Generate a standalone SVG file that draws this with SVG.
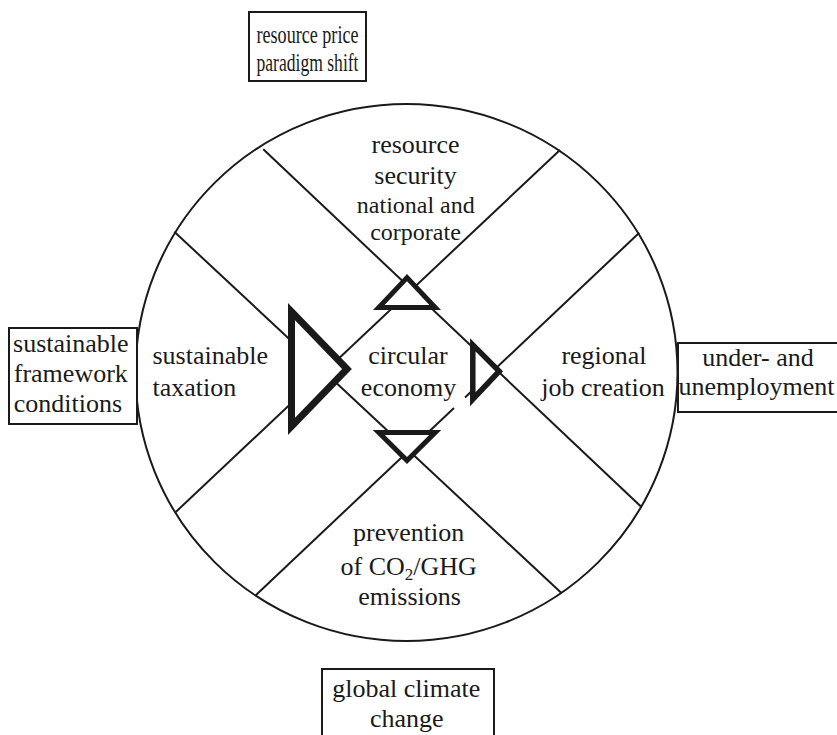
<svg xmlns="http://www.w3.org/2000/svg" width="837" height="735" viewBox="0 0 837 735">
  <style>
    .t { font-family: "Liberation Serif", "Times New Roman", serif; font-size: 26px; fill: #1a1a1a; }
    .m { text-anchor: middle; }
    .sm { font-size: 24px; }
    .ln { stroke: #1a1a1a; stroke-width: 2; fill: none; }
    .box { fill: #fff; stroke: #1a1a1a; stroke-width: 2; }
    .tri { fill: #fff; stroke: #1a1a1a; stroke-linejoin: miter; }
  </style>
  <rect width="837" height="735" fill="#fff"/>

  <!-- outer ring -->
  <g id="ring">
    <ellipse cx="406.5" cy="372.5" rx="271" ry="268.5" class="ln"/>
  </g>

  <!-- the four crossing dividers -->
  <g id="connectors">
    <line class="ln" x1="263.3" y1="149.3" x2="641.7" y2="507.3"/>
    <line class="ln" x1="174.3" y1="231.7" x2="561.7" y2="593.3"/>
    <line class="ln" x1="175" y1="512.7" x2="560" y2="150"/>
    <line class="ln" x1="256" y1="595" x2="454" y2="407.9"/>
    <line class="ln" x1="465" y1="397.5" x2="639.3" y2="232.7"/>
  </g>

  <!-- flow arrows around the centre -->
  <g id="arrow-left">
    <polygon class="tri" stroke-width="7" points="291.5,311.6 291.5,426.4 347,369"/>
  </g>
  <g id="arrow-top">
    <polygon class="tri" stroke-width="5" points="407,277.6 378.8,307.5 435.2,307.5"/>
  </g>
  <g id="arrow-bottom">
    <polygon class="tri" stroke-width="5" points="378.8,432.5 435.2,432.5 407,460.5"/>
  </g>
  <g id="arrow-right">
    <polygon class="tri" stroke-width="5.5" points="472.8,344.8 472.8,399.2 499.2,371.2"/>
  </g>

  <!-- sector labels -->
  <g id="sector-top">
    <text class="t m" x="415.5" y="153.2">resource</text>
    <text class="t m" x="415.5" y="183.5">security</text>
    <text class="t m sm" x="415.8" y="213.3">national and</text>
    <text class="t m sm" x="415.5" y="239.6">corporate</text>
  </g>
  <g id="sector-left">
    <text class="t" x="152.5" y="364.4">sustainable</text>
    <text class="t" x="152.5" y="395.7">taxation</text>
  </g>
  <g id="centre">
    <text class="t m" x="408" y="364.4">circular</text>
    <text class="t m" x="408.5" y="395.7">economy</text>
  </g>
  <g id="sector-right">
    <text class="t m" x="604" y="364.4">regional</text>
    <text class="t m" x="603" y="395.7">job creation</text>
  </g>
  <g id="sector-bottom">
    <text class="t m" x="408.6" y="540.6">prevention</text>
    <text class="t m" x="408.7" y="574.8">of CO<tspan font-size="17" dy="5">2</tspan><tspan dy="-5">/GHG</tspan></text>
    <text class="t m" x="409.6" y="605.4">emissions</text>
  </g>

  <!-- outside drivers -->
  <g id="box-top">
    <rect class="box" x="249" y="12" width="117" height="69"/>
    <text class="t m" x="307.5" y="43" textLength="102" lengthAdjust="spacingAndGlyphs">resource price</text>
    <text class="t m" x="307.5" y="70.5" textLength="102" lengthAdjust="spacingAndGlyphs">paradigm shift</text>
  </g>
  <g id="box-left">
    <rect class="box" x="9" y="328" width="128" height="96"/>
    <text class="t m" x="70.8" y="351.7">sustainable</text>
    <text class="t m" x="70.8" y="381.7">framework</text>
    <text class="t m" x="68" y="411.7">conditions</text>
  </g>
  <g id="box-right">
    <rect class="box" x="678" y="343" width="162" height="69"/>
    <text class="t m" x="758" y="366">under- and</text>
    <text class="t m" x="756.5" y="395">unemployment</text>
  </g>
  <g id="box-bottom">
    <rect class="box" x="322" y="669" width="172" height="80"/>
    <text class="t m" x="406.2" y="696.7">global climate</text>
    <text class="t m" x="406.7" y="726.7">change</text>
  </g>
</svg>
